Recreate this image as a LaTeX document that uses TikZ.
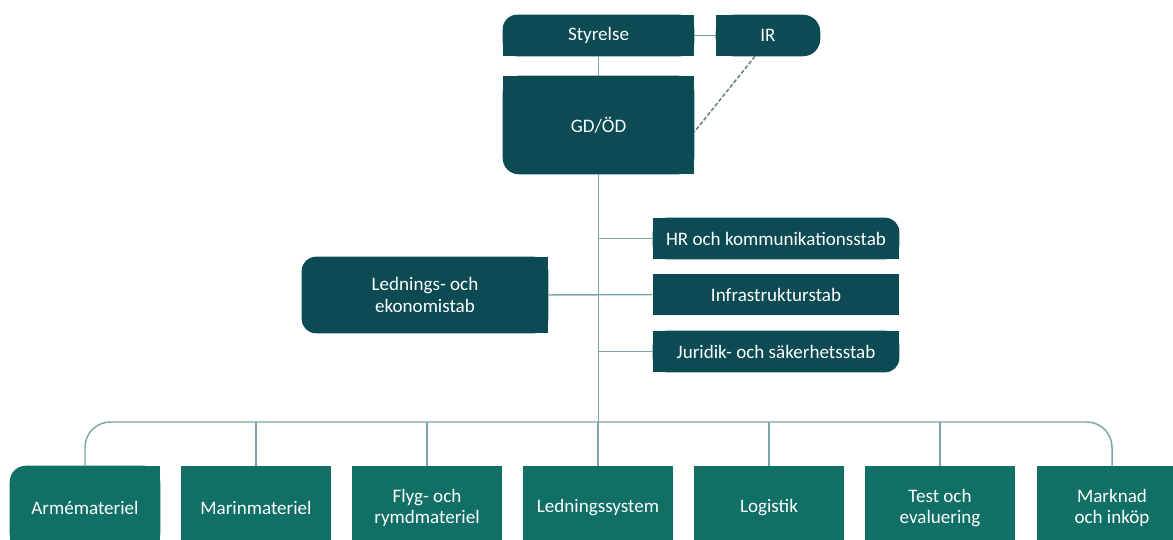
\documentclass[tikz,border=0pt]{standalone}
\usepackage{fontspec}
\setmainfont{Carlito}
\usetikzlibrary{calc}
\definecolor{dk}{RGB}{12,74,84}
\definecolor{gr}{RGB}{16,112,101}
\definecolor{ln}{RGB}{122,166,167}
\definecolor{dsh}{RGB}{95,125,130}
\pgfdeclarelayer{background}
\pgfsetlayers{background,main}
\tikzset{
  box/.style={inner sep=0pt, text=white, align=center, font=\fontsize{14.3}{16}\selectfont},
  topbox/.style={box, minimum width=191*0.75pt, minimum height=41*0.75pt},
  staffbox/.style={box, minimum width=246*0.75pt, minimum height=41*0.75pt},
  unitbox/.style={box, minimum width=150*0.75pt, minimum height=84*0.75pt},
  conn/.style={draw=ln, line width=1.1pt},
}
\begin{document}
\begin{tikzpicture}[x=0.75pt,y=-0.75pt]
\useasboundingbox (0,0) rectangle (1173,539);
\begin{scope}
\clip (0,0) rectangle (1173,539);
% nodes (text)
\node[topbox] (sty) at (598.5,35.5) {Styrelse};
\node[box, minimum width=104*0.75pt, minimum height=41*0.75pt] (ir) at (768,35.5) {IR};
\node[box, minimum width=191*0.75pt, minimum height=98*0.75pt] (gd) at (598.5,125) {GD/ÖD};
\node[box, minimum width=246*0.75pt, minimum height=76*0.75pt] (led) at (425,295) {Lednings- och\\ekonomistab};
\node[staffbox] (hr) at (776,238.5) {HR och kommunikationsstab};
\node[staffbox] (inf) at (776,294.5) {Infrastrukturstab};
\node[staffbox] (jur) at (776,351.5) {Juridik- och säkerhetsstab};
\node[unitbox] (arm) at (85,508) {Armémateriel};
\node[unitbox] (mar) at (256,508) {Marinmateriel};
\node[unitbox] (fly) at (427,508) {Flyg- och\\rymdmateriel};
\node[unitbox] (lsy) at (598,508) {Ledningssystem};
\node[unitbox] (log) at (769,508) {Logistik};
\node[unitbox] (tes) at (940,508) {Test och\\evaluering};
\node[unitbox] (mak) at (1112,508) {Marknad\\och inköp};
\coordinate (bus) at (598.5,422);
\coordinate (irdash) at ($(ir.south)+(-13,0)$);
\coordinate (gddash) at ($(gd.east)+(0,7)$);

\begin{pgfonlayer}{background}
% Styrelse: rounded top-left
\fill[dk, rounded corners=10.5pt] (sty.south west) rectangle (sty.north east);
\fill[dk] (sty.west) rectangle (sty.south east);
\fill[dk] (sty.north) rectangle (sty.south east);
% IR: rounded right corners
\fill[dk, rounded corners=13pt] (ir.south west) rectangle (ir.north east);
\fill[dk] (ir.south west) rectangle (ir.north);
% GD: rounded bottom-left
\fill[dk, rounded corners=12pt] (gd.south west) rectangle (gd.north east);
\fill[dk] (gd.north west) rectangle (gd.east);
\fill[dk] (gd.north) rectangle (gd.south east);
% Lednings: rounded left corners
\fill[dk, rounded corners=10.5pt] (led.south west) rectangle (led.north east);
\fill[dk] (led.south) rectangle (led.north east);
% HR: rounded top-right
\fill[dk, rounded corners=10.5pt] (hr.south west) rectangle (hr.north east);
\fill[dk] (hr.south west) rectangle (hr.north);
\fill[dk] (hr.west) rectangle (hr.south east);
% Infra
\fill[dk] (inf.south west) rectangle (inf.north east);
% Juridik: rounded bottom-right
\fill[dk, rounded corners=10.5pt] (jur.south west) rectangle (jur.north east);
\fill[dk] (jur.south west) rectangle (jur.north);
\fill[dk] (jur.west) rectangle (jur.north east);
% units
\fill[gr, rounded corners=12pt] (arm.south west) rectangle (arm.north east);
\fill[gr] (arm.south west) rectangle (arm.east);
\fill[gr] (arm.south) rectangle (arm.north east);
\foreach \n in {mar,fly,lsy,log,tes,mak}
  \fill[gr] (\n.south west) rectangle (\n.north east);
% connectors
\draw[conn] (sty.east) -- (ir.west);
\draw[conn] (sty.south) -- (gd.north);
\draw[dsh, line width=1.1pt, dash pattern=on 3pt off 1.5pt] (irdash) -- (gddash);
\draw[conn] (gd.south) -- (bus);
\draw[conn] (hr.west) -- (hr.west -| gd.south);
\draw[conn] (led.east) -- (inf.west);
\draw[conn] (jur.west) -- (jur.west -| gd.south);
\draw[conn, rounded corners=19pt] (arm.north) |- (bus) -| (mak.north);
\foreach \n in {mar,fly,lsy,log,tes}
  \draw[conn] (\n.north) -- (\n.north |- bus);
\end{pgfonlayer}
\end{scope}
\end{tikzpicture}
\end{document}
